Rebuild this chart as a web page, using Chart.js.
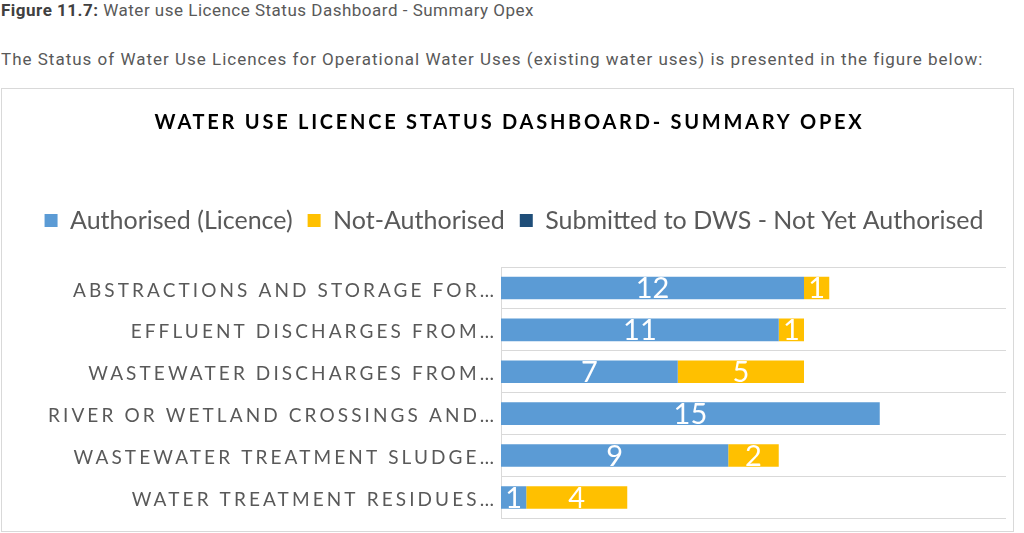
<!DOCTYPE html>
<html>
<head>
<meta charset="utf-8">
<script src="https://cdn.jsdelivr.net/npm/chart.js@4/dist/chart.umd.min.js"></script>
<style>
  body { margin: 0; background: #fff; width: 1024px; height: 533px; overflow: hidden; position: relative; font-family: Roboto, sans-serif; }
  .txt { position: absolute; left: 1px; font-size: 17px; line-height: 20px; color: #595959; white-space: nowrap; }
  .txt b { color: #404040; }
  #box { position: absolute; left: 1px; top: 88px; width: 1011px; height: 442px; border: 1px solid #d9d9d9; }
</style>
</head>
<body>
<div class="txt" style="top:0px; letter-spacing:0.5px"><b>Figure 11.7:</b> Water use Licence Status Dashboard - Summary Opex</div>
<div class="txt" style="top:49px; letter-spacing:1px">The Status of Water Use Licences for Operational Water Uses (existing water uses) is presented in the figure below:</div>
<div id="box"><canvas id="c" width="1011" height="442"></canvas></div>
<script>
// ---- data -------------------------------------------------------------------
const TITLE = 'WATER USE LICENCE STATUS DASHBOARD- SUMMARY OPEX';
const CATEGORIES = [
  'ABSTRACTIONS AND STORAGE FOR…',
  'EFFLUENT DISCHARGES FROM…',
  'WASTEWATER DISCHARGES FROM…',
  'RIVER OR WETLAND CROSSINGS AND…',
  'WASTEWATER TREATMENT SLUDGE…',
  'WATER TREATMENT RESIDUES…',
];
const SERIES_NAMES   = ['Authorised (Licence)', 'Not-Authorised', 'Submitted to DWS - Not Yet Authorised'];
const AUTHORISED     = [12, 11, 7, 15, 9, 1];
const NOT_AUTHORISED = [1, 1, 5, 0, 2, 4];
const SUBMITTED      = [0, 0, 0, 0, 0, 0];
const X_MAX = 20;

const COLORS = ['#5b9bd5', '#ffc000', '#1f4e79'];
const FONT = 'Lato, "Open Sans", sans-serif';

// value labels in the bars, plus the tracked-out title and category labels
const overlay = {
  id: 'overlay',
  beforeDraw(chart) { chart.ctx.letterSpacing = '0px'; },
  afterDatasetsDraw(chart) {
    const ctx = chart.ctx;
    ctx.save();
    ctx.font = '29px ' + FONT;
    ctx.fillStyle = '#fff';
    ctx.textAlign = 'center';
    ctx.textBaseline = 'middle';
    chart.data.datasets.forEach((ds, i) => {
      chart.getDatasetMeta(i).data.forEach((bar, j) => {
        const v = ds.data[j];
        if (!v) return;
        const p = bar.getProps(['x', 'y', 'base'], true);
        ctx.fillText(String(v), (p.x + p.base) / 2, p.y + 1);
      });
    });
    ctx.restore();
    ctx.letterSpacing = '3.1px';   // y tick labels are drawn after this (ticks.z = 1)
  },
  afterDraw(chart) {
    const ctx = chart.ctx;
    ctx.save();
    ctx.letterSpacing = '2.75px';
    ctx.font = 'bold 20px ' + FONT;
    ctx.fillStyle = '#000';
    ctx.textAlign = 'center';
    ctx.textBaseline = 'middle';
    ctx.fillText(TITLE, chart.width / 2 + 2, 34);
    ctx.restore();
    ctx.letterSpacing = '0px';
  },
};

const bar = (label, data, color) => ({
  label, data,
  backgroundColor: color,
  borderWidth: 0,
  barPercentage: 0.54,
  categoryPercentage: 1.0,
  stack: 's',
});

new Chart(document.getElementById('c'), {
  type: 'bar',
  data: {
    labels: CATEGORIES,
    datasets: [
      bar(SERIES_NAMES[0], AUTHORISED, COLORS[0]),
      bar(SERIES_NAMES[1], NOT_AUTHORISED, COLORS[1]),
      bar(SERIES_NAMES[2], SUBMITTED, COLORS[2]),
    ],
  },
  options: {
    indexAxis: 'y',
    responsive: false,
    animation: false,
    layout: { padding: { top: 104, left: 20, right: 7, bottom: 12.6 } },
    plugins: {
      title: { display: false },
      tooltip: { enabled: false },
      legend: {
        position: 'top',
        labels: {
          font: { family: FONT, size: 25 },
          color: '#595959',
          boxWidth: 13,
          boxHeight: 13,
          padding: 15,
        },
      },
    },
    scales: {
      x: {
        position: 'top',
        stacked: true,
        min: 0, max: X_MAX,
        grid: { display: false },
        border: { display: false },
        ticks: { display: false },
        afterFit(s) { s.height = 24; },   // gap between legend and plot
      },
      y: {
        stacked: true,
        grid: { color: '#d9d9d9', drawTicks: false, offset: true },
        border: { display: true, color: '#d9d9d9' },
        ticks: { font: { family: FONT, size: 19 }, color: '#595959', padding: 4, labelOffset: 2.5, z: 1 },
        afterFit(s) { s.width = 479; s.paddingTop = 0; s.paddingBottom = 0; },
      },
    },
  },
  plugins: [overlay],
});
</script>
</body>
</html>
